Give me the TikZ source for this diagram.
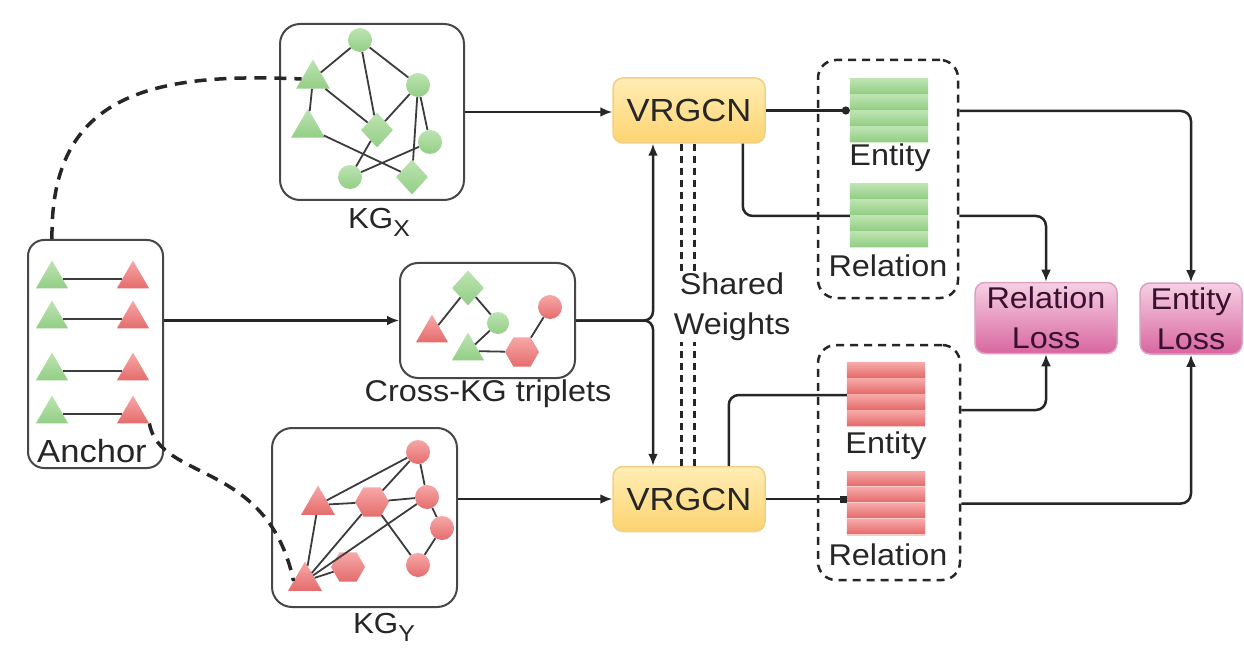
\documentclass[tikz,border=0pt]{standalone}
\usepackage{fontspec}
\setmainfont{Liberation Sans}[FakeStretch=1.08]
\usetikzlibrary{arrows.meta,shapes.geometric,calc}
\definecolor{gL}{HTML}{BDE4B2}
\definecolor{gD}{HTML}{93CE85}
\definecolor{rL}{HTML}{F7A8A8}
\definecolor{rD}{HTML}{E56C6C}
\definecolor{oL}{HTML}{FFEDB5}
\definecolor{oD}{HTML}{FDD470}
\definecolor{oB}{HTML}{F3CF85}
\definecolor{pL}{HTML}{F6D0E4}
\definecolor{pD}{HTML}{D8669F}
\definecolor{pB}{HTML}{DDA3C3}
\definecolor{pT}{HTML}{3A1030}
\definecolor{ink}{HTML}{262626}
\tikzset{
  base/.style={font=\fontsize{30}{40}\selectfont, text=ink, inner sep=1pt},
  gbox/.style={draw=ink!85, line width=2pt, rounded corners=20pt},
  edge/.style={draw=ink!90, line width=1.8pt},
  gcirc/.style={circle, minimum size=24pt, inner sep=0pt, top color=gL, bottom color=gD},
  rcirc/.style={circle, minimum size=24pt, inner sep=0pt, top color=rL, bottom color=rD},
  gtri/.style={regular polygon, regular polygon sides=3, minimum size=39pt, inner sep=0pt, top color=gL, bottom color=gD},
  rtri/.style={regular polygon, regular polygon sides=3, minimum size=39pt, inner sep=0pt, top color=rL, bottom color=rD},
  gdia/.style={diamond, minimum width=32pt, minimum height=35pt, inner sep=0pt, top color=gL, bottom color=gD},
  rhex/.style={regular polygon, regular polygon sides=6, minimum size=34pt, inner sep=0pt, top color=rL, bottom color=rD},
  vr/.style={rectangle, rounded corners=10pt, minimum width=152pt, minimum height=65pt, top color=oL, bottom color=oD, draw=oB, line width=1.5pt, font=\fontsize{32}{36}\selectfont, text=ink},
  loss/.style={rectangle, rounded corners=10pt, minimum height=71pt, inner sep=2pt, align=center, top color=pL, bottom color=pD, draw=pB, line width=1.5pt, font=\fontsize{30}{40}\selectfont, text=pT},
  stackbox/.style={rectangle, minimum width=78pt, inner sep=0pt},
  dbox/.style={draw=ink, line width=2.5pt, dash pattern=on 8pt off 6pt, rounded corners=18pt},
  ln/.style={draw=ink, line width=2.5pt},
  arr/.style={draw=ink, line width=2.5pt, -{Latex[length=12pt,width=10pt]}},
  dashcurve/.style={draw=ink, line width=3.5pt, dash pattern=on 12pt off 8pt},
  dashl/.style={draw=ink, line width=3pt, dash pattern=on 7pt off 5pt},
}
\newcommand{\barstack}[3]{%
  \foreach \k in {0,1,2,3}{%
    \shade[top color=#2, bottom color=#3] ([yshift={-\k*16pt}]#1.north west) rectangle ([yshift={-(\k+1)*16pt+1.5pt}]#1.north east);
  }}
\begin{document}
\begin{tikzpicture}[x=1pt,y=-1pt]
\useasboundingbox (0,0) rectangle (1244,668);
\fill[white] (0,0) rectangle (1244,668);

% ---------- KG_X ----------
\node[gbox, minimum width=184pt, minimum height=176pt] (kgx) at (372,112) {};
\node[gcirc] (x1) at (360,40) {};
\node[gtri] (x2) at (313,79) {};
\node[gtri] (x3) at (308,128) {};
\node[gcirc] (x4) at (418,85) {};
\node[gdia] (x5) at (377,130) {};
\node[gcirc] (x6) at (430,142) {};
\node[gcirc] (x7) at (350,177) {};
\node[gdia] (x8) at (412,177) {};
\draw[edge] (x2) -- (x1); \draw[edge] (x2) -- (x3); \draw[edge] (x2) -- (x5);
\draw[edge] (x1) -- (x5); \draw[edge] (x1) -- (x4); \draw[edge] (x4) -- (x5);
\draw[edge] (x4) -- (x6); \draw[edge] (x4) -- (x8); \draw[edge] (x3) -- (x8);
\draw[edge] (x5) -- (x7); \draw[edge] (x7) -- (x6);
\node[base, font=\fontsize{29}{30}\selectfont] (kgxl) at (379,222) {KG\raisebox{-8pt}{\fontsize{23}{23}\selectfont X}};

% ---------- KG_Y ----------
\node[gbox, minimum width=185pt, minimum height=179pt] (kgy) at (364.5,517.5) {};
\node[rcirc] (y1) at (418,452) {};
\node[rtri] (y2) at (318,505) {};
\node[rhex] (y3) at (372,502) {};
\node[rcirc] (y4) at (427,497) {};
\node[rcirc] (y5) at (442,528) {};
\node[rhex] (y6) at (348,567) {};
\node[rcirc] (y7) at (418,565) {};
\node[rtri] (y8) at (305,581) {};
\draw[edge] (y2) -- (y1); \draw[edge] (y2) -- (y3); \draw[edge] (y3) -- (y4);
\draw[edge] (y3) -- (y1); \draw[edge] (y1) -- (y4); \draw[edge] (y4) -- (y5);
\draw[edge] (y5) -- (y7); \draw[edge] (y3) -- (y7); \draw[edge] (y2) -- (y8);
\draw[edge] (y8) -- (y3); \draw[edge] (y8) -- (y4); \draw[edge] (y8) -- (y6);
\node[base, font=\fontsize{29}{30}\selectfont] (kgyl) at (384,627) {KG\raisebox{-8pt}{\fontsize{23}{23}\selectfont Y}};

% ---------- Cross-KG triplets ----------
\node[gbox, rounded corners=18pt, minimum width=175pt, minimum height=115pt] (cross) at (487.5,320.5) {};
\node[rtri, minimum size=37pt] (c1) at (432,333) {};
\node[gdia] (c2) at (468,288) {};
\node[gcirc, minimum size=22pt] (c3) at (498,323) {};
\node[gtri, minimum size=37pt] (c4) at (468,351) {};
\node[rhex] (c5) at (522,352) {};
\node[rcirc] (c6) at (550,307) {};
\draw[edge] (c1) -- (c2); \draw[edge] (c2) -- (c3); \draw[edge] (c3) -- (c4);
\draw[edge] (c4) -- (c5); \draw[edge] (c5) -- (c6);
\node[base] (crossl) at (488,394) {Cross-KG triplets};

% ---------- Anchor ----------
\node[gbox, rounded corners=16pt, minimum width=135pt, minimum height=228pt] (anchor) at (95.5,354) {};
\foreach \i/\yy in {1/275,2/315,3/367,4/410}{
  \node[gtri, minimum size=37pt] (ag\i) at (52,\yy+4) {};
  \node[rtri, minimum size=37pt] (ar\i) at (133,\yy+4) {};
  \draw[edge] (ag\i) -- (ar\i);
}
\node[base, font=\fontsize{32}{36}\selectfont] (anchorl) at (92,451) {Anchor};

% dashed anchor links
\draw[dashcurve] (ag1 |- anchor.north) .. controls (50,95) and (150,72) .. (x2.west);
\draw[dashcurve] (ar4.corner 3) .. controls (160,482) and (268,460) .. (y8.west);

% ---------- VRGCN ----------
\node[vr] (v1) at (689,110.5) {VRGCN};
\node[vr] (v2) at (689,499) {VRGCN};

\draw[arr] (kgx.east) -- (kgx.east -| v1.west);
\draw[arr] (kgy.east |- v2.west) -- (v2.west);
\draw[arr] (anchor.east |- cross.west) -- (cross.west);

\coordinate (j) at (653,320.5);
\draw[arr, rounded corners=9pt] (cross.east) -- (j) -- (j |- v1.south);
\draw[arr, rounded corners=9pt] (cross.east) -- (j) -- (j |- v2.north);

% shared weights
\node[base, align=center] (sw) at (732,307) {Shared\\Weights};
\coordinate (s1) at ([xshift=69pt]v1.south west);
\coordinate (s2) at ([xshift=82pt]v1.south west);
\coordinate (s3) at ([xshift=69pt]v2.north west);
\coordinate (s4) at ([xshift=82pt]v2.north west);
\draw[dashl] (s1) -- (s1 |- sw.north);
\draw[dashl] (s2) -- (s2 |- sw.north);
\draw[dashl] (s3) -- (s3 |- sw.south);
\draw[dashl] (s4) -- (s4 |- sw.south);

% ---------- embedding stacks ----------
\node[dbox, minimum width=140pt, minimum height=238pt] (box1) at (888,179) {};
\node[dbox, minimum width=142pt, minimum height=235pt] (box2) at (889,462.5) {};

\node[stackbox, minimum height=64pt, fill=gL!60] (ge) at (889,111) {};
\barstack{ge}{gL}{gD}
\node[stackbox, minimum height=64pt, fill=gL!60] (gr) at (889,216) {};
\barstack{gr}{gL}{gD}
\node[stackbox, minimum height=64pt, fill=rL!60] (re) at (886,395) {};
\barstack{re}{rL}{rD}
\node[stackbox, minimum height=64pt, fill=rL!60] (rr) at (886,503.5) {};
\barstack{rr}{rL}{rD}

\node[base] (gel) at (890,158) {Entity};
\node[base] (grl) at (888,266) {Relation};
\node[base] (rel) at (886,446) {Entity};
\node[base] (rrl) at (888,555) {Relation};

\draw[ln, -{Circle[length=8pt]}] (v1.east) -- (v1.east -| ge.west);
\coordinate (v1b) at ([xshift=-23pt]v1.south east);
\draw[ln, rounded corners=10pt] (v1b) |- (gr.west);
\coordinate (v2t) at ([xshift=-37pt]v2.north east);
\draw[ln, rounded corners=10pt] (v2t) |- (re.west);
\draw[ln, -{Square[length=7pt]}] (v2.east) -- (v2.east -| rr.west);

% ---------- losses ----------
\node[loss, minimum width=142pt] (rl) at (1046,318) {Relation\\Loss};
\node[loss, minimum width=102pt] (el) at (1191,318.5) {Entity\\Loss};

\draw[arr, rounded corners=10pt] (ge.east -| box1.east) -| (el.north);
\draw[arr, rounded corners=10pt] (gr.east -| box1.east) -| (rl.north);
\coordinate (re2) at ([yshift=-15pt]re.east);
\draw[arr, rounded corners=10pt] (re2 -| box2.east) -| (rl.south);
\draw[arr, rounded corners=10pt] (rr.east -| box2.east) -| (el.south);
\end{tikzpicture}
\end{document}
